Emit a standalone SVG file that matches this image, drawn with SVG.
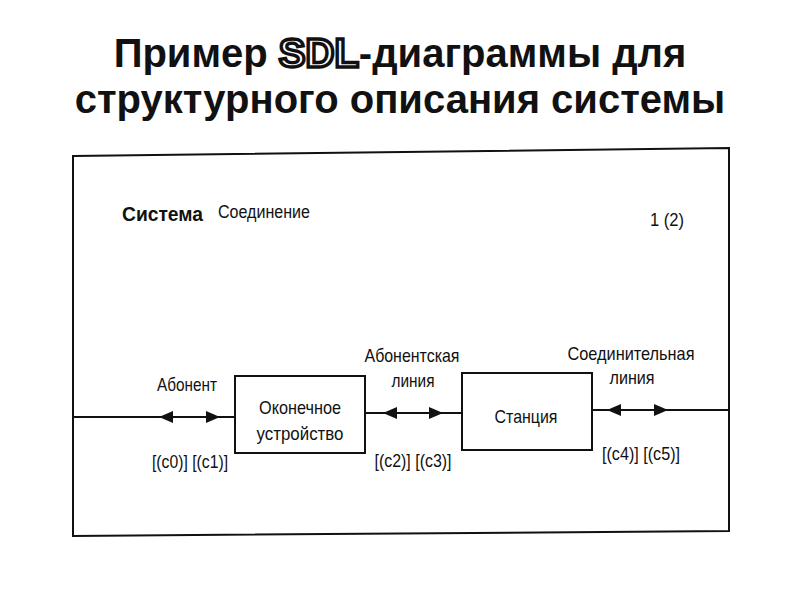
<svg xmlns="http://www.w3.org/2000/svg" width="800" height="600" viewBox="0 0 800 600">
<style>
.title{font-family:"Liberation Sans",Arial,sans-serif;font-weight:bold;font-size:40px;fill:#111;text-anchor:middle}
.sdl{fill:#fff;stroke:#111;stroke-width:3.4px}
.t{font-family:"Liberation Sans",Arial,sans-serif;font-size:19px;fill:#111;text-anchor:middle}
.frame{fill:none;stroke:#111;stroke-width:2}
.box{fill:#fff;stroke:#111;stroke-width:2}
.ln{stroke:#111;stroke-width:2;fill:none}
.ah{fill:#111}
</style>
<rect width="800" height="600" fill="#fff"/>
<text class="title" x="400" y="67">Пример <tspan class="sdl">SDL</tspan>-диаграммы для</text>
<text class="title" x="400" y="113">структурного описания системы</text>

<polygon class="frame" points="73,156 729,148 729,531 73,536"/>

<g id="header">
<text class="t" x="122" y="221" style="text-anchor:start;font-weight:bold;font-size:21px" textLength="81" lengthAdjust="spacingAndGlyphs">Система</text>
<text class="t" x="218" y="218" style="text-anchor:start;font-size:18px" textLength="92" lengthAdjust="spacingAndGlyphs">Соединение</text>
<text class="t" x="650" y="226" style="text-anchor:start;font-size:18px" textLength="34" lengthAdjust="spacingAndGlyphs">1 (2)</text>
</g>

<g id="connectors">
<line class="ln" x1="73" y1="417" x2="235" y2="417"/>
<polygon class="ah" points="159,417 173,411 173,423"/>
<polygon class="ah" points="220,417 206,411 206,423"/>
<line class="ln" x1="365" y1="413" x2="462" y2="413"/>
<polygon class="ah" points="383,413 397,407 397,419"/>
<polygon class="ah" points="443,413 429,407 429,419"/>
<line class="ln" x1="592" y1="410" x2="729" y2="410"/>
<polygon class="ah" points="607,410 621,404 621,416"/>
<polygon class="ah" points="668,410 654,404 654,416"/>
</g>

<g id="ch-abonent">
<text class="t" x="187" y="391" textLength="60" lengthAdjust="spacingAndGlyphs">Абонент</text>
<text class="t" x="190" y="468" textLength="76" lengthAdjust="spacingAndGlyphs">[(c0)] [(c1)]</text>
</g>
<g id="ch-abonline">
<text class="t" x="412" y="362" textLength="95" lengthAdjust="spacingAndGlyphs">Абонентская</text>
<text class="t" x="413" y="387" textLength="43" lengthAdjust="spacingAndGlyphs">линия</text>
<text class="t" x="413" y="467" textLength="77" lengthAdjust="spacingAndGlyphs">[(c2)] [(c3)]</text>
</g>
<g id="ch-connline">
<text class="t" x="631" y="360" textLength="127" lengthAdjust="spacingAndGlyphs">Соединительная</text>
<text class="t" x="632" y="384" textLength="45" lengthAdjust="spacingAndGlyphs">линия</text>
<text class="t" x="641" y="460" textLength="78" lengthAdjust="spacingAndGlyphs">[(c4)] [(c5)]</text>
</g>

<g id="terminal">
<rect class="box" x="235" y="376" width="130" height="77"/>
<text class="t" x="300" y="414" textLength="82" lengthAdjust="spacingAndGlyphs">Оконечное</text>
<text class="t" x="300" y="440" textLength="87" lengthAdjust="spacingAndGlyphs">устройство</text>
</g>
<g id="station">
<rect class="box" x="462" y="373" width="130" height="77"/>
<text class="t" x="526" y="423" textLength="63" lengthAdjust="spacingAndGlyphs">Станция</text>
</g>
</svg>
